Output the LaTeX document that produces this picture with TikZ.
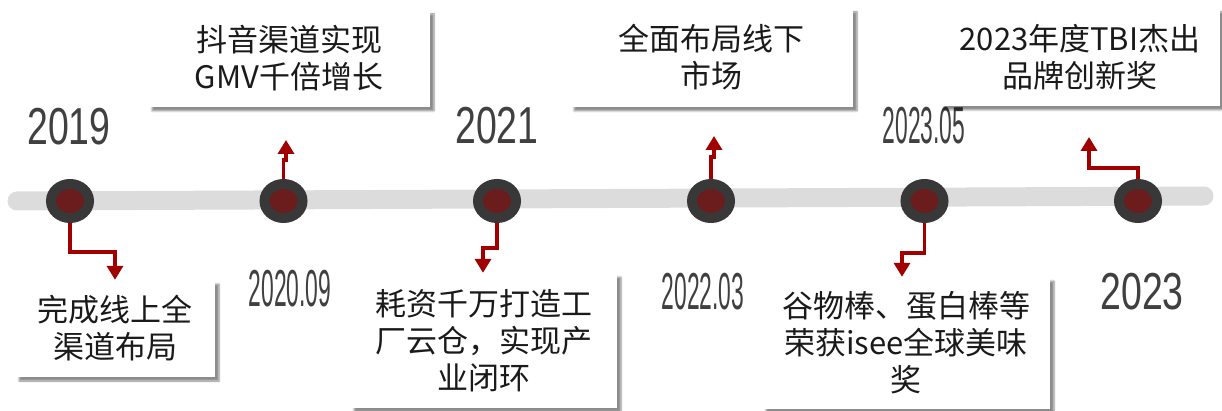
\documentclass[tikz,border=0pt]{standalone}
\usepackage{fontspec}
\newfontfamily\cjk{Noto Sans CJK SC}
\newfontfamily\yearfont{Liberation Sans}
\usetikzlibrary{shapes.geometric,arrows.meta,shadows.blur}
\definecolor{barc}{HTML}{DCDCDC}
\definecolor{ringc}{HTML}{383838}
\definecolor{dotc}{HTML}{6B1C1C}
\definecolor{linec}{HTML}{A00000}
\definecolor{yearc}{HTML}{404040}
\definecolor{txtc}{HTML}{1A1A1A}
\tikzset{
 dot/.style={ellipse, fill=dotc, draw=ringc, line width=10pt, minimum width=38pt, minimum height=34pt, inner sep=0pt, outer sep=5pt},
 conn/.style={draw=linec, line width=3.5pt, -{Triangle[width=16pt,length=14pt]}},
 box/.style={rectangle, fill=white, inner sep=0pt, align=center, font=\cjk\fontsize{31}{37}\selectfont, text=txtc, blur shadow={shadow xshift=4pt, shadow yshift=-4pt, shadow blur steps=6, shadow opacity=45}},
 year/.style={font=\yearfont\fontsize{52}{52}\selectfont, text=yearc, inner sep=0pt},
}
\begin{document}
\begin{tikzpicture}[x=1pt,y=-1pt]
\useasboundingbox (0,0) rectangle (1222,411);
% bar
\coordinate (barL) at (17,201);
\coordinate (barR) at (1204,196);
\draw[barc, line width=19pt, line cap=round] (barL) -- (barR);
% dots
\node[dot] (c1) at (70,201) {};
\node[dot] (c2) at (283.5,201) {};
\node[dot] (c3) at (497,201) {};
\node[dot] (c4) at (711,201) {};
\node[dot] (c5) at (924.5,201) {};
\node[dot] (c6) at (1138,201) {};
% years
\node[year] (y1) at (69,127) {\scalebox{0.72}[1]{2019}};
\node[year] (y2) at (290,289) {\scalebox{0.44}[1]{2020.09}};
\node[year] (y3) at (497,126) {\scalebox{0.72}[1]{2021}};
\node[year] (y4) at (703,292) {\scalebox{0.44}[1]{2022.03}};
\node[year] (y5) at (924,126) {\scalebox{0.44}[1]{2023.05}};
\node[year] (y6) at (1142,292) {\scalebox{0.72}[1]{2023}};
% boxes
\node[box, minimum width=200pt, minimum height=97pt] (b1) at (115,328.5) {完成线上全\\渠道布局};
\node[box, minimum width=282pt, minimum height=97pt] (b2) at (289,58.5) {抖音渠道实现\\GMV千倍增长};
\node[box, minimum width=267pt, minimum height=135pt] (b3) at (483.5,340.5) {耗资千万打造工\\厂云仓，实现产\\业闭环};
\node[box, minimum width=283pt, minimum height=99pt] (b4) at (711.5,57.5) {全面布局线下\\市场};
\node[box, minimum width=288pt, minimum height=132pt] (b5) at (906,343) {谷物棒、蛋白棒等\\荣获isee全球美味\\奖};
\node[box, minimum width=280pt, minimum height=98pt] (b6) at (1080,57) {2023年度TBI杰出\\品牌创新奖};
% connectors
\coordinate (j1) at (115,252);
\coordinate (j2) at (286,160);
\coordinate (t2) at (286,140);
\coordinate (j3) at (483,248);
\coordinate (j4) at (714,157);
\coordinate (t4) at (714,136);
\coordinate (j5) at (902,253);
\coordinate (j6) at (1089,168);
\coordinate (t6) at (1089,137);
\draw[conn] (c1.south) |- (j1) -- (j1 |- b1.north);
\draw[conn] (c2.north) |- (j2) -- (t2);
\draw[conn] (c3.south) |- (j3) -- (j3 |- b3.north);
\draw[conn] (c4.north) |- (j4) -- (t4);
\draw[conn] (c5.south) |- (j5) -- (j5 |- b5.north);
\draw[conn] (c6.north) |- (j6) -- (t6);
\end{tikzpicture}
\end{document}
